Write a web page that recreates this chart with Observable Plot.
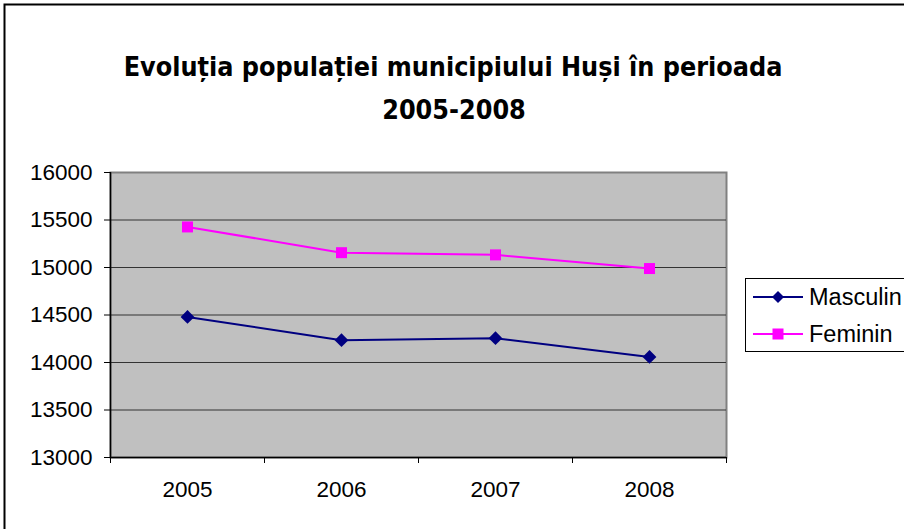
<!DOCTYPE html>
<html><head><meta charset="utf-8">
<script src="https://cdn.jsdelivr.net/npm/d3@7"></script>
<script src="https://cdn.jsdelivr.net/npm/@observablehq/plot@0.6"></script>
<style>
body{margin:0;background:#fff;overflow:hidden}
#chart{position:relative;width:904px;height:529px;overflow:hidden;background:#fff}
</style>
</head><body><div id="chart"></div>
<script>
// ---- data ----
const years = [2005, 2006, 2007, 2008];
const masculin = [14480, 14235, 14256, 14059];
const feminin = [15427, 15156, 15133, 14989];
const seriesNames = ["Masculin", "Feminin"];
const seriesColors = ["#000080", "#ff00ff"];
const yTicks = [13000, 13500, 14000, 14500, 15000, 15500, 16000];
const titleLines = ["Evoluția populației municipiului Huși în perioada", "2005-2008"];

const mData = years.map((y, i) => ({year: y, value: masculin[i], series: seriesNames[0]}));
const fData = years.map((y, i) => ({year: y, value: feminin[i], series: seriesNames[1]}));
const boundaries = [years[0] - 0.5, ...years.map(y => y + 0.5)];

// custom symbols
const diamondSym = {draw(ctx, size) { const r = Math.sqrt(size) * 0.62625; ctx.moveTo(0, -r); ctx.lineTo(r, 0); ctx.lineTo(0, r); ctx.lineTo(-r, 0); ctx.closePath(); }};
const squareSym = {draw(ctx, size) { const s = Math.sqrt(size) / 2; ctx.rect(-s, -s, 2 * s, 2 * s); }};

const FONT = "'Liberation Sans', Arial, sans-serif";

const plot = Plot.plot({
  width: 904, height: 529,
  marginLeft: 110, marginRight: 178, marginTop: 172, marginBottom: 72,
  style: {fontFamily: FONT, fontSize: "22px", color: "#000", background: "transparent", overflow: "visible"},
  x: {domain: [boundaries[0], boundaries[boundaries.length - 1]], label: null},
  y: {domain: [yTicks[0], yTicks[yTicks.length - 1]], label: null},
  marks: [
    Plot.frame({fill: "#c0c0c0", stroke: "#808080", strokeWidth: 2}),
    Plot.ruleY(yTicks.slice(1, -1), {stroke: "#333333", strokeWidth: 1.2}),
    Plot.ruleY([yTicks[0]], {stroke: "#000", strokeWidth: 1.5}),
    Plot.ruleX([boundaries[0]], {stroke: "#000", strokeWidth: 1.5}),
    Plot.axisY({ticks: yTicks, tickSize: 6, tickPadding: 12, tickFormat: d => String(d), fontSize: 22.5, label: null}),
    Plot.axisX({ticks: years, tickSize: 0, tickPadding: 24, tickFormat: d => String(d), fontSize: 22.5, label: null}),
    Plot.axisX({ticks: boundaries, tickSize: 6, tickFormat: () => "", label: null}),
    Plot.line(mData, {x: "year", y: "value", stroke: seriesColors[0], strokeWidth: 2}),
    Plot.line(fData, {x: "year", y: "value", stroke: seriesColors[1], strokeWidth: 2}),
    Plot.dot(mData, {x: "year", y: "value", symbol: diamondSym, r: 6.2, fill: seriesColors[0], stroke: "none"}),
    Plot.dot(fData, {x: "year", y: "value", symbol: squareSym, r: 6.2, fill: seriesColors[1], stroke: "none"})
  ]
});
document.getElementById("chart").appendChild(plot);

const svg = d3.select(plot);
// outer chart border (behind everything)
svg.insert("rect", ":first-child")
  .attr("x", 4.5).attr("y", 4.5).attr("width", 1000).attr("height", 1000)
  .attr("fill", "#fff").attr("stroke", "#000").attr("stroke-width", 2);

// title
const tFont = "'DejaVu Sans Condensed', 'DejaVu Sans', sans-serif";
const t1 = svg.append("text").attr("x", 453).attr("y", 76).attr("text-anchor", "middle")
  .attr("font-family", tFont).attr("font-weight", "bold").attr("font-size", 25).attr("fill", "#000").text(titleLines[0]);
const w = t1.node().getComputedTextLength();
const fs = 25 * 659 / w;
t1.attr("font-size", fs);
svg.append("text").attr("x", 454).attr("y", 119).attr("text-anchor", "middle")
  .attr("font-family", tFont).attr("font-weight", "bold").attr("font-size", fs).attr("fill", "#000").text(titleLines[1]);

// legend
const lg = svg.append("g").attr("text-anchor", "start");
lg.append("rect").attr("x", 745.5).attr("y", 278.5).attr("width", 200).attr("height", 73)
  .attr("fill", "#fff").attr("stroke", "#000").attr("stroke-width", 1);
const rowsY = [297, 334];
seriesNames.forEach((name, i) => {
  const y = rowsY[i];
  lg.append("line").attr("x1", 753).attr("x2", 803).attr("y1", y).attr("y2", y)
    .attr("stroke", seriesColors[i]).attr("stroke-width", 2);
  if (i === 0) {
    lg.append("path").attr("d", `M778,${y-6}L784,${y}L778,${y+6}L772,${y}Z`).attr("fill", seriesColors[i]);
  } else {
    lg.append("rect").attr("x", 772.5).attr("y", y - 5.5).attr("width", 11).attr("height", 11).attr("fill", seriesColors[i]);
  }
  lg.append("text").attr("x", 809).attr("y", y + 8).attr("text-anchor", "start").attr("font-family", FONT).attr("font-size", 23.5)
    .attr("fill", "#000").text(name);
});
</script>
</body></html>
